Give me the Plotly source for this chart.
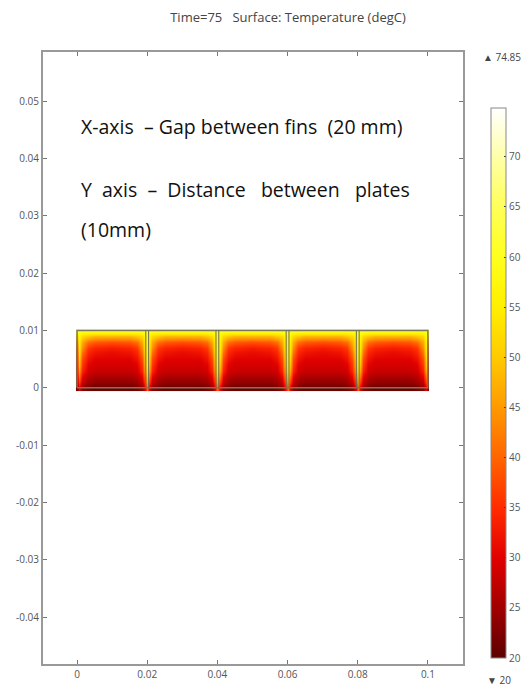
import numpy as np
import plotly.graph_objects as go

# ---- data ----
title_text = "Time=75   Surface: Temperature (degC)"
x_ticks = [0, 0.02, 0.04, 0.06, 0.08, 0.1]
x_ticklabels = ["0", "0.02", "0.04", "0.06", "0.08", "0.1"]
y_ticks = [0.05, 0.04, 0.03, 0.02, 0.01, 0, -0.01, -0.02, -0.03, -0.04]
y_ticklabels = ["0.05", "0.04", "0.03", "0.02", "0.01", "0", "-0.01", "-0.02", "-0.03", "-0.04"]
cb_ticks = [20, 25, 30, 35, 40, 45, 50, 55, 60, 65, 70]
t_min, t_max = 20, 74.85

fin_gap = 0.02          # gap between fins (m)
plate_gap = 0.01        # distance between plates (m)
n_cells = 5
fin_positions = [0.02, 0.04, 0.06, 0.08]

# y sample rows within the channel (m)
rows_y = [0, 0.001, 0.002, 0.003, 0.004, 0.005, 0.006, 0.007, 0.008, 0.009, 0.0095, 0.01]
# local x offsets inside one cell (m), fin at offset 0
cell_x = [0, 0.0006, 0.0015, 0.003, 0.005, 0.010, 0.015, 0.017, 0.0185, 0.0194]
# temperatures (degC): columns per cell_x, each list bottom->top
col_fin      = [40, 46, 50, 53, 55, 56, 57, 58, 58, 59, 60, 61]
col_near_fin = [30, 37, 42, 46, 49, 51, 53, 54, 55, 57, 59, 62]
col_x15      = [24, 28, 31, 34, 36, 38, 41, 44, 47, 52, 57, 62]
col_x30      = [22, 25, 27, 29, 30, 32, 34, 36, 41, 50, 56, 62]
col_x50      = [21, 24, 26, 28, 29, 30, 32, 34, 39, 48, 56, 62]
col_core     = [21, 24, 26, 28, 29, 30, 31, 33, 38, 48, 56, 62]
col_wall     = [22, 25, 27, 29, 31, 33, 35, 38, 43, 51, 57, 62]

cell_cols = [col_fin, col_near_fin, col_x15, col_x30, col_x50,
             col_core, col_x50, col_x30, col_x15, col_near_fin]

# ---- build field ----
xs, cols = [], []
for c in range(n_cells):
    for j, dx in enumerate(cell_x):
        xs.append(c * fin_gap + dx)
        cols.append(col_wall if (c == 0 and j == 0) else cell_cols[j])
xs.append(n_cells * fin_gap)
cols.append(col_wall)
z = np.array(cols).T  # rows = y

colorscale = [
    [0.00, "#5c0000"],
    [0.09, "#a00000"],
    [0.18, "#e00000"],
    [0.27, "#ff2a00"],
    [0.36, "#ff6200"],
    [0.46, "#ff9c00"],
    [0.55, "#ffcc00"],
    [0.64, "#fff000"],
    [0.73, "#ffff1e"],
    [0.82, "#ffff5a"],
    [0.91, "#ffffa8"],
    [1.00, "#ffffff"],
]

fig = go.Figure()
fig.add_trace(go.Heatmap(
    x=xs, y=rows_y, z=z, zmin=t_min, zmax=t_max, zsmooth="best",
    colorscale=colorscale, hoverinfo="skip",
    colorbar=dict(
        x=1.067, xanchor="left", xref="paper",
        y=0.459, yanchor="middle", yref="paper",
        len=550, lenmode="pixels", thickness=15,
        xpad=0, ypad=0, outlinewidth=1, outlinecolor="#888",
        tickvals=cb_ticks, ticktext=[str(v) for v in cb_ticks],
        ticks="inside", ticklen=2, tickcolor="#333",
        tickfont=dict(family="Open Sans", size=10, color="#555555"),
    ),
))

# channel outline and fins
fig.add_trace(go.Scatter(
    x=[0, n_cells * fin_gap, n_cells * fin_gap, 0, 0],
    y=[0, 0, plate_gap, plate_gap, 0],
    mode="lines", line=dict(color="#7a7a5a", width=1.5),
    hoverinfo="skip", showlegend=False))
for fp in fin_positions:
    for off in (-0.0004, 0.0004):
        fig.add_trace(go.Scatter(
            x=[fp + off, fp + off], y=[0, plate_gap],
            mode="lines", line=dict(color="#6b6b55", width=1),
            hoverinfo="skip", showlegend=False))

axis_common = dict(
    showline=True, linecolor="#999", linewidth=2, mirror="ticks",
    ticks="inside", ticklen=4, tickcolor="#777", showgrid=False, zeroline=False,
    automargin=False,
    tickfont=dict(family="Open Sans", size=10, color="#555555"),
)
fig.update_xaxes(range=[-0.0097, 0.11], tickvals=x_ticks, ticktext=x_ticklabels, **axis_common)
fig.update_yaxes(range=[-0.0482, 0.0586], tickvals=y_ticks, ticktext=y_ticklabels, **axis_common)

note_font = dict(family="Open Sans", size=19.5, color="#111")
fig.add_annotation(x=0.0006, y=0.0456, text="X-axis  – Gap between fins  (20 mm)",
                   showarrow=False, xanchor="left", yanchor="middle", font=note_font)
fig.add_annotation(x=0.0006, y=0.0346, text="Y  axis  –  Distance   between   plates",
                   showarrow=False, xanchor="left", yanchor="middle", font=note_font)
fig.add_annotation(x=0.0006, y=0.0277, text="(10mm)",
                   showarrow=False, xanchor="left", yanchor="middle", font=note_font)

small = dict(family="Open Sans", size=10, color="#444")
fig.add_annotation(x=(481 - 43) / 420, y=(664 - 57) / 612, xref="paper", yref="paper",
                   text="▲ 74.85", showarrow=False, xanchor="left", yanchor="middle", font=small)
fig.add_annotation(x=(485 - 43) / 420, y=(664 - 680) / 612, xref="paper", yref="paper",
                   text="▼ 20", showarrow=False, xanchor="left", yanchor="middle", font=small)

fig.update_layout(
    template="none",
    width=529, height=691,
    margin=dict(l=43, r=66, t=52, b=27, autoexpand=False),
    paper_bgcolor="white", plot_bgcolor="white",
    title=dict(text=title_text, x=288 / 529, xref="container", xanchor="center",
               y=1 - 17 / 691, yref="container", yanchor="middle",
               font=dict(family="Open Sans", size=13, color="#444")),
    showlegend=False,
)

fig.write_html("out.html", config={"displayModeBar": False},
               post_script="document.body.style.margin='0';")
